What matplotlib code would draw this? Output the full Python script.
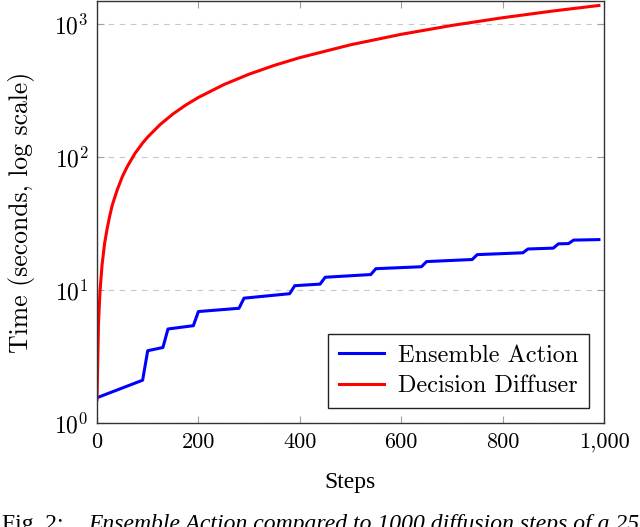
import numpy as np
import matplotlib
matplotlib.use('Agg')
import matplotlib.pyplot as plt
from matplotlib.ticker import FuncFormatter, NullLocator

plt.rcParams['mathtext.fontset'] = 'cm'
plt.rcParams['axes.unicode_minus'] = False

# 数据
ens_steps = [0, 90, 100, 130, 140, 190, 200, 280, 290, 380, 390, 440, 450,
             540, 550, 640, 650, 740, 750, 840, 850, 900, 910, 930, 940, 990]
ens_time = [1.55, 2.1, 3.5, 3.7, 5.1, 5.4, 6.9, 7.3, 8.7, 9.4, 10.8, 11.1, 12.5,
            13.1, 14.5, 15.0, 16.4, 17.0, 18.5, 19.1, 20.4, 20.7, 22.3, 22.4, 23.8, 24.0]

dd_steps = [0, 3, 6, 10, 15, 20, 25, 30, 40, 50, 60, 75, 90, 100, 125, 150, 175,
            200, 250, 300, 350, 400, 500, 600, 700, 800, 900, 990]
dd_time = [1.5, 5.7, 9.9, 15.5, 22.5, 29, 36, 43.5, 57, 71.5, 85.5, 107, 128, 142,
           177, 212, 247, 282, 352, 422, 492, 562, 702, 842, 982, 1122, 1262, 1388]

x_ticks = [0, 200, 400, 600, 800, 1000]
y_ticks = [1, 10, 100, 1000]

fig = plt.figure(figsize=(6.4, 5.27), dpi=100)
ax = fig.add_axes([97/640, 1 - 423/527, (604 - 97)/640, 422/527])

ax.plot(ens_steps, ens_time, color=(0, 0, 1), lw=2.2, label='Ensemble Action')
ax.plot(dd_steps, dd_time, color=(1, 0, 0), lw=2.2, label='Decision Diffuser')

ax.set_yscale('log')
ax.set_xlim(0, 1000)
ax.set_ylim(1, 10 ** 3.176)

ax.set_xticks(x_ticks)
ax.xaxis.set_major_formatter(FuncFormatter(lambda v, p: '{:,}'.format(int(v))))
ax.set_yticks(y_ticks)
ax.set_yticklabels([r'$10^{%d}$' % int(np.log10(t)) for t in y_ticks])
ax.yaxis.set_minor_locator(NullLocator())

for lab in ax.get_xticklabels():
    lab.set_family('cmr10')
ax.tick_params(axis='both', which='major', direction='in', length=5, width=0.8,
               color='#a0a0a0', top=True, right=True)
ax.tick_params(axis='x', labelsize=16, pad=7)
ax.tick_params(axis='y', labelsize=17, pad=6)

ax.grid(axis='y', which='major', linestyle=(0, (5, 5)), color='#c8c8c8', lw=0.8)

for s in ax.spines.values():
    s.set_color('#333333')
    s.set_linewidth(1.0)

ax.set_ylabel('Time (seconds, log scale)', family='cmr10', fontsize=18.5, labelpad=14)
ax.set_xlabel('Steps', family='Liberation Serif', fontsize=17, labelpad=14)

leg = ax.legend(loc='lower right', prop={'family': 'cmr10', 'size': 17.5},
                fancybox=False, framealpha=1, edgecolor='#222222',
                borderaxespad=0.6, handlelength=1.85, borderpad=0.45,
                labelspacing=0.35, handletextpad=0.6)
leg.get_frame().set_linewidth(1.0)

# 图注（下半部分被裁掉）
fig.text(2/640, -3/527, 'Fig. 2:', family='Liberation Serif', fontsize=17, va='baseline', ha='left')
fig.text(88/640, -3/527, 'Ensemble Action compared to 1000 diffusion steps of a 25',
         family='Liberation Serif', style='italic', fontsize=17, va='baseline', ha='left')

fig.savefig('out.png', dpi=100)
